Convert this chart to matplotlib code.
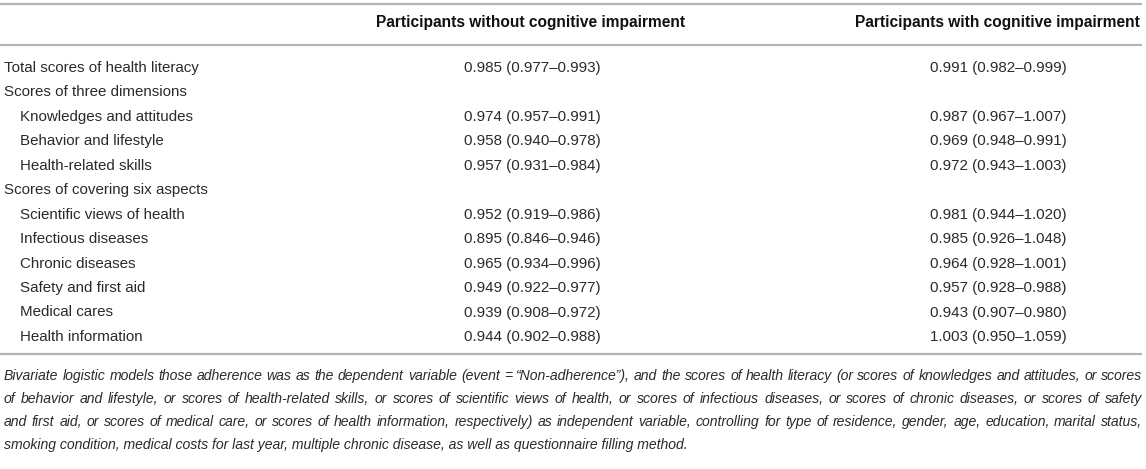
import matplotlib
matplotlib.use("Agg")
import matplotlib.pyplot as plt

plt.rcParams['font.family'] = ['Liberation Sans', 'DejaVu Sans']

# ---- table content ----
col_headers = ["Participants without cognitive impairment",
               "Participants with cognitive impairment"]
row_labels = ["Total scores of health literacy",
              "Scores of three dimensions",
              "Knowledges and attitudes",
              "Behavior and lifestyle",
              "Health-related skills",
              "Scores of covering six aspects",
              "Scientific views of health",
              "Infectious diseases",
              "Chronic diseases",
              "Safety and first aid",
              "Medical cares",
              "Health information"]
row_indent = [0, 0, 1, 1, 1, 0, 1, 1, 1, 1, 1, 1]
without_ci = ["0.985 (0.977\u20130.993)", "",
              "0.974 (0.957\u20130.991)", "0.958 (0.940\u20130.978)", "0.957 (0.931\u20130.984)", "",
              "0.952 (0.919\u20130.986)", "0.895 (0.846\u20130.946)", "0.965 (0.934\u20130.996)",
              "0.949 (0.922\u20130.977)", "0.939 (0.908\u20130.972)", "0.944 (0.902\u20130.988)"]
with_ci = ["0.991 (0.982\u20130.999)", "",
           "0.987 (0.967\u20131.007)", "0.969 (0.948\u20130.991)", "0.972 (0.943\u20131.003)", "",
           "0.981 (0.944\u20131.020)", "0.985 (0.926\u20131.048)", "0.964 (0.928\u20131.001)",
           "0.957 (0.928\u20130.988)", "0.943 (0.907\u20130.980)", "1.003 (0.950\u20131.059)"]
footnote = [
    "Bivariate logistic models those adherence was as the dependent variable (event = \u201cNon-adherence\u201d), "
    "and the scores of health literacy (or scores of knowledges and attitudes, or scores",
    "of behavior and lifestyle, or scores of health-related skills, or scores of scientific views of health, "
    "or scores of infectious diseases, or scores of chronic diseases, or scores of safety",
    "and first aid, or scores of medical care, or scores of health information, respectively) as independent "
    "variable, controlling for type of residence, gender, age, education, marital status,",
    "smoking condition, medical costs for last year, multiple chronic disease, as well as questionnaire "
    "filling method.",
]

W, H = 1146, 469
text_color = "#2a2a2a"
head_color = "#111111"
rule_color = "#b4b4b4"
fs = 10.9
fs_head = 11.2
fs_note = 10.1

fig = plt.figure(figsize=(W / 100, H / 100), dpi=100)
ax = fig.add_axes([0, 0, 1, 1])
ax.set_xlim(0, W)
ax.set_ylim(H, 0)
ax.axis('off')

# horizontal rules
for y in (4, 45.5, 354):
    ax.plot([0, 1142], [y, y], color=rule_color, lw=1.6, solid_capstyle='butt')

# header
ax.text(531, 23, col_headers[0], ha='center', va='center', fontsize=fs_head,
        fontweight='bold', color=head_color)
ax.text(997, 23, col_headers[1], ha='center', va='center', fontsize=fs_head,
        fontweight='bold', color=head_color)

# body rows
y0, dy = 68, 24.45
for i, lab in enumerate(row_labels):
    y = y0 + i * dy
    ax.text(4 + 16 * row_indent[i], y, lab, ha='left', va='center',
            fontsize=fs, color=text_color)
    ax.text(532, y, without_ci[i], ha='center', va='center', fontsize=fs, color=text_color)
    ax.text(998, y, with_ci[i], ha='center', va='center', fontsize=fs, color=text_color)

# footnote, justified except for last line
fig.canvas.draw()
renderer = fig.canvas.get_renderer()
x_left, x_right = 4, 1142
fy0, fdy = 376, 23
for j, line in enumerate(footnote):
    y = fy0 + j * fdy
    if j == len(footnote) - 1:
        ax.text(x_left, y, line, ha='left', va='center', fontsize=fs_note,
                style='italic', color=text_color)
        continue
    words = line.split(' ')
    arts = [ax.text(0, y, w, ha='left', va='center', fontsize=fs_note,
                    style='italic', color=text_color) for w in words]
    widths = [a.get_window_extent(renderer).width for a in arts]
    gap = (x_right - x_left - sum(widths)) / (len(words) - 1)
    x = x_left
    for a, wd in zip(arts, widths):
        a.set_x(x)
        x += wd + gap

fig.savefig("out.png", dpi=100)
